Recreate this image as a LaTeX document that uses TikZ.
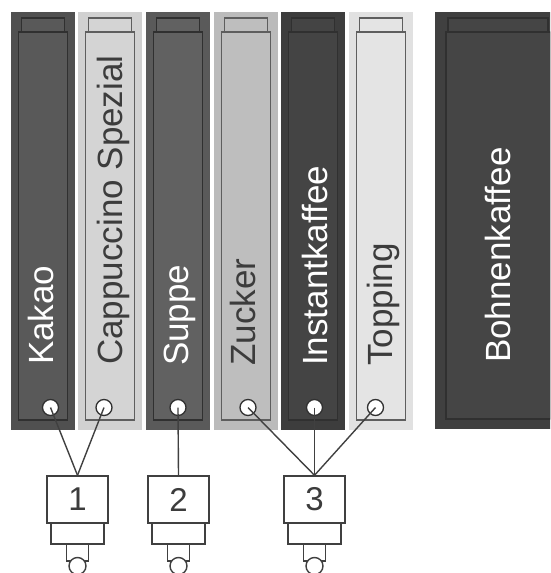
\documentclass[tikz,border=0pt]{standalone}
\usepackage{fontspec}
\setmainfont{Liberation Sans}
\definecolor{dkA}{gray}{0.314}\definecolor{dkAi}{gray}{0.349}
\definecolor{lightB}{gray}{0.82}\definecolor{lightBi}{gray}{0.831}
\definecolor{dkC}{gray}{0.353}\definecolor{dkCi}{gray}{0.38}
\definecolor{lightD}{gray}{0.733}\definecolor{lightDi}{gray}{0.745}
\definecolor{dkE}{gray}{0.24}\definecolor{dkEi}{gray}{0.267}
\definecolor{lightF}{gray}{0.882}\definecolor{lightFi}{gray}{0.894}
\definecolor{dkG}{gray}{0.251}\definecolor{dkGi}{gray}{0.271}
\definecolor{lnDark}{gray}{0.19}\definecolor{lnLight}{gray}{0.37}
\definecolor{txtDark}{gray}{0.235}\definecolor{wire}{gray}{0.251}
\newcommand\canister[4]{% x0, outer, inner, line colour
  \fill[#2] (#1,12) rectangle ++(64,418);
  \draw[#4, line width=1.4pt, fill=#3] (#1+7.5,32) rectangle (#1+56.5,420);
  \draw[#4, line width=1.4pt, fill=#3] (#1+10.5,18) rectangle (#1+53.5,32);
}
\tikzset{
  lbl/.style={font=\fontsize{35}{40}\selectfont, anchor=base west, rotate=90, inner sep=0pt},
  port/.style={circle, draw=lnDark, fill=white, line width=1.3pt, minimum size=16pt, inner sep=0pt},
  wireline/.style={draw=wire, line width=1.4pt},
  mixbox/.style={rectangle, draw=wire, fill=white, line width=1.4pt, minimum width=61pt, minimum height=47pt, inner sep=0pt, font=\fontsize{33}{36}\selectfont, text=txtDark},
  mixbase/.style={rectangle, draw=wire, fill=white, line width=1.4pt, minimum width=53pt, minimum height=21pt, inner sep=0pt},
  nozzle/.style={rectangle, draw=wire, fill=white, line width=1.4pt, minimum width=22pt, minimum height=17pt, inner sep=0pt},
  drop/.style={circle, draw=wire, fill=white, line width=1.4pt, minimum size=17pt, inner sep=0pt}
}
\begin{document}
\begin{tikzpicture}[x=1pt,y=-1pt]
\useasboundingbox (0,0) rectangle (550,573);
\clip (0,0) rectangle (550,573);
% canisters
\canister{11}{dkA}{dkAi}{lnDark}
\canister{78}{lightB}{lightBi}{lnLight}
\canister{146}{dkC}{dkCi}{lnDark}
\canister{214}{lightD}{lightDi}{lnLight}
\canister{281}{dkE}{dkEi}{lnDark}
\canister{349}{lightF}{lightFi}{lnLight}
% Bohnenkaffee
\fill[dkG] (435,12) rectangle (562,429);
\draw[lnDark, line width=1.4pt, fill=dkGi] (446,32) rectangle (551,419);
\draw[lnDark, line width=1.4pt, fill=dkGi] (448,18) rectangle (548,32);
% labels
\node[lbl, text=white] (tK) at (53,365) {Kakao};
\node[lbl, text=txtDark] (tC) at (122,365) {Cappuccino Spezial};
\node[lbl, text=white] (tS) at (188,366) {Suppe};
\node[lbl, text=txtDark] (tZ) at (255,366) {Zucker};
\node[lbl, text=white] (tI) at (327,366) {Instantkaffee};
\node[lbl, text=txtDark] (tT) at (392,366) {Topping};
\node[lbl, text=white] (tB) at (510,363) {Bohnenkaffee};
% ports
\node[port] (pK) at (50.5,407.5) {};
\node[port] (pC) at (104,407.5) {};
\node[port] (pS) at (178,407.5) {};
\node[port] (pZ) at (248,407.5) {};
\node[port] (pI) at (314.5,407.5) {};
\node[port] (pT) at (375.5,407.5) {};
% mixers
\foreach \n/\x in {1/77.5, 2/178.5, 3/314.5}{
  \node[mixbox] (m\n) at (\x,499.5) {\n};
  \node[mixbase] (b\n) at (\x,533.5) {};
  \node[nozzle] (z\n) at (\x,552.5) {};
  \node[drop] (d\n) at (\x,566) {};
}
% wires
\draw[wireline] (pK.center) -- (m1.north);
\draw[wireline] (pC.center) -- (m1.north);
\draw[wireline] (pS.center) -- (m2.north);
\draw[wireline] (pZ.center) -- (m3.north);
\draw[wireline] (pI.center) -- (m3.north);
\draw[wireline] (pT.center) -- (m3.north);
\end{tikzpicture}
\end{document}
